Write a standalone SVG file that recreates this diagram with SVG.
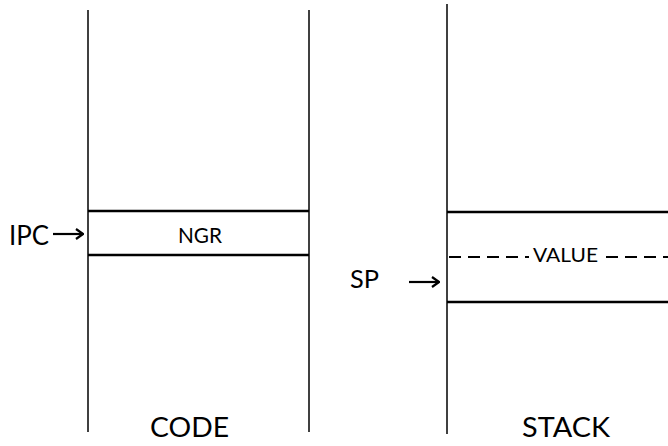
<svg xmlns="http://www.w3.org/2000/svg" width="668" height="446" viewBox="0 0 668 446">
<style>
.v{stroke:#000;stroke-width:1.5;fill:none}
.h{stroke:#000;stroke-width:2.6;fill:none}
.d{stroke:#000;stroke-width:2;stroke-dasharray:12,7;fill:none}
.a{stroke:#000;stroke-width:2.2;fill:none}
text{font-family:Lato,"Open Sans","Liberation Sans",sans-serif;fill:#000}
</style>
<defs>
<marker id="ah" markerWidth="10" markerHeight="12" refX="9" refY="6" orient="auto" markerUnits="userSpaceOnUse">
<path d="M2,1 L9,6 L2,11" stroke="#000" stroke-width="2.2" fill="none"/>
</marker>
</defs>
<rect width="668" height="446" fill="#fff"/>
<g id="code">
<line class="v" x1="88" y1="10" x2="88" y2="432"/>
<line class="v" x1="309" y1="10" x2="309" y2="432"/>
<text x="150" y="437" font-size="26" textLength="79" lengthAdjust="spacingAndGlyphs">CODE</text>
</g>
<g id="ngr">
<line class="h" x1="88" y1="211" x2="309" y2="211"/>
<line class="h" x1="88" y1="255" x2="309" y2="255"/>
<text x="178" y="243" font-size="21" textLength="44" lengthAdjust="spacingAndGlyphs">NGR</text>
</g>
<g id="stack">
<line class="v" x1="447" y1="4" x2="447" y2="434"/>
<text x="522" y="437" font-size="26" textLength="88" lengthAdjust="spacingAndGlyphs">STACK</text>
</g>
<g id="value">
<line class="h" x1="447" y1="212" x2="668" y2="212"/>
<line class="h" x1="447" y1="302" x2="668" y2="302"/>
<line class="d" x1="449" y1="257" x2="529" y2="257"/>
<line class="d" x1="606" y1="257" x2="668" y2="257"/>
<text x="533" y="262" font-size="20" textLength="65" lengthAdjust="spacingAndGlyphs">VALUE</text>
</g>
<g id="ipc">
<text x="9" y="245" font-size="27" textLength="40" lengthAdjust="spacingAndGlyphs">IPC</text>
</g>
<g id="sp">
<text x="350" y="288" font-size="25" textLength="29" lengthAdjust="spacingAndGlyphs">SP</text>
</g>
<g id="connectors">
<line class="a" x1="53" y1="234" x2="83" y2="234" marker-end="url(#ah)"/>
<line class="a" x1="409" y1="282" x2="439" y2="282" marker-end="url(#ah)"/>
</g>
</svg>
